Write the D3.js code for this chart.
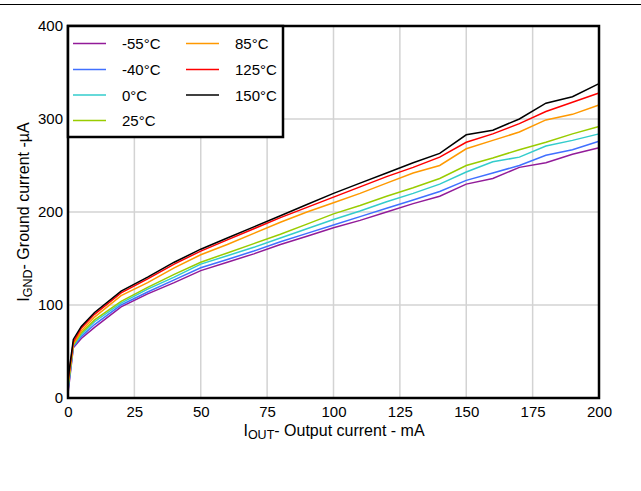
<!DOCTYPE html>
<html><head><meta charset="utf-8">
<script src="https://cdn.jsdelivr.net/npm/d3@7"></script>
<style>body{margin:0;background:#fff}svg{display:block;font-family:"Liberation Sans",Arial,sans-serif}</style>
</head><body><svg id="c" width="641" height="491"></svg>
<script>
const current = [0,2,5,10,20,30,40,50,60,70,80,90,100,110,120,130,140,150,160,170,180,190,200];
const tM55 = [5,54,64,76,98,112,124,137,146,155,165,174,183,191,200,209,217,230,236,248,253,262,269];
const tM40 = [8,55,66,79,100,114,127,140,149,158,168,177,186,195,204,213,222,234,242,250,261,267,276];
const t0   = [10,56,68,82,102,117,130,144,153,162,172,182,192,201,211,220,230,243,254,259,271,277,284];
const t25  = [12,57,70,84,104,119,133,146,156,166,176,187,198,207,217,226,236,250,258,267,275,284,292];
const t85  = [15,58,72,87,110,124,140,154,165,177,189,200,210,220,231,242,250,268,277,286,299,305,315];
const t125 = [18,60,75,90,113,128,144,158,170,182,194,205,216,227,238,248,259,275,284,295,308,318,328];
const t150 = [20,63,77,92,115,130,146,160,172,184,196,208,220,231,242,253,263,283,288,300,317,324,338];
const seriesNames = ["-55°C","-40°C","0°C","25°C","85°C","125°C","150°C"];
const seriesColors = ["#921b99","#4070ff","#33cccc","#99cc00","#ff9900","#ff0000","#000000"];
const xTicks = [0,25,50,75,100,125,150,175,200];
const yTicks = [0,100,200,300,400];

const series = [tM55,tM40,t0,t25,t85,t125,t150];
const svg = d3.select("#c");
const L=68,R=599,T=26,B=398;
const x = d3.scaleLinear().domain([0,200]).range([L,R]);
const y = d3.scaleLinear().domain([0,400]).range([B,T]);

svg.append("line").attr("x1",0).attr("x2",641).attr("y1",4.5).attr("y2",4.5).attr("stroke","#000").attr("stroke-width",1.2);

// grid
const g = svg.append("g");
g.selectAll(".gx").data(xTicks).join("line").attr("x1",d=>x(d)).attr("x2",d=>x(d)).attr("y1",T).attr("y2",B).attr("stroke","#d3d3d3").attr("stroke-width",1.5);
g.selectAll(".gy").data(yTicks).join("line").attr("x1",L).attr("x2",R).attr("y1",d=>y(d)).attr("y2",d=>y(d)).attr("stroke","#d3d3d3").attr("stroke-width",1.5);

// axes
const xa = svg.append("g").attr("transform",`translate(0,${B})`).call(d3.axisBottom(x).tickValues(xTicks).tickSize(0).tickPadding(8));
const ya = svg.append("g").attr("transform",`translate(${L},0)`).call(d3.axisLeft(y).tickValues(yTicks).tickSize(0).tickPadding(5));
[xa,ya].forEach(a=>{a.select(".domain").remove();a.selectAll("text").attr("font-size",15).attr("fill","#000").attr("font-family","Liberation Sans, Arial, sans-serif");});

// lines
const line = d3.line().x((d,i)=>x(current[i])).y(d=>y(d));
svg.append("g").selectAll("path").data(series).join("path")
  .attr("d",d=>line(d)).attr("fill","none").attr("stroke",(d,i)=>seriesColors[i]).attr("stroke-width",1.5);

// frame
svg.append("rect").attr("x",L).attr("y",T).attr("width",R-L).attr("height",B-T).attr("fill","none").attr("stroke","#000").attr("stroke-width",2.5);

// legend
const lg = svg.append("g");
lg.append("rect").attr("x",L).attr("y",T).attr("width",215).attr("height",111).attr("fill","#fff").attr("stroke","#000").attr("stroke-width",2.5);
const rowsY=[43.5,69.5,95,120.5];
seriesNames.forEach((n,i)=>{
  const col = i<4?0:1, row = i<4?i:i-4;
  const lx = col===0?73:186, tx = col===0?122:235;
  lg.append("line").attr("x1",lx).attr("x2",lx+33).attr("y1",rowsY[row]).attr("y2",rowsY[row]).attr("stroke",seriesColors[i]).attr("stroke-width",1.5);
  lg.append("text").attr("x",tx).attr("y",rowsY[row]+5.5).attr("font-size",15).text(n);
});

// axis titles
const xt = svg.append("text").attr("x",334).attr("y",436).attr("text-anchor","middle").attr("font-size",16);
xt.append("tspan").text("I");
xt.append("tspan").attr("font-size",12.5).attr("dy",3).text("OUT");
xt.append("tspan").attr("dy",-3).text("- Output current - mA");

const yt = svg.append("text").attr("transform","translate(29,212) rotate(-90)").attr("text-anchor","middle").attr("font-size",16);
yt.append("tspan").text("I");
yt.append("tspan").attr("font-size",12.5).attr("dy",3).text("GND");
yt.append("tspan").attr("dy",-3).text("- Ground current -µA");
</script></body></html>
